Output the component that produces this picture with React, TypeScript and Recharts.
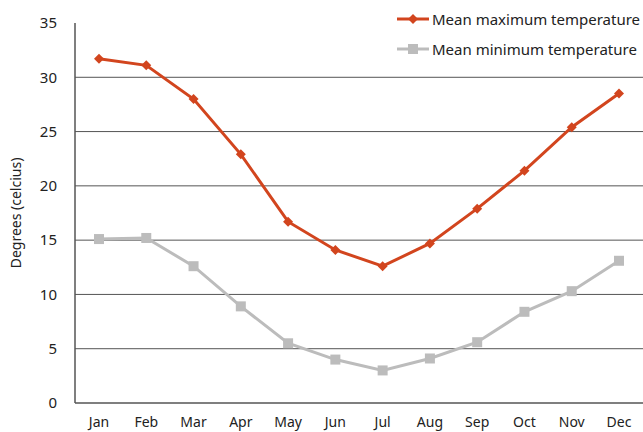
import { useEffect } from "react";
import {
  LineChart,
  Line,
  XAxis,
  YAxis,
  CartesianGrid,
} from "recharts";

const months = ["Jan", "Feb", "Mar", "Apr", "May", "Jun", "Jul", "Aug", "Sep", "Oct", "Nov", "Dec"];
const maxTemp = [31.7, 31.1, 28.0, 22.9, 16.7, 14.1, 12.6, 14.7, 17.9, 21.4, 25.4, 28.5];
const minTemp = [15.1, 15.2, 12.6, 8.9, 5.5, 4.0, 3.0, 4.1, 5.6, 8.4, 10.3, 13.1];
const yTicks = [0, 5, 10, 15, 20, 25, 30, 35];
const gridValues = [5, 10, 15, 20, 25, 30];

const RED = "#d2451e";
const GREY = "#bcbcbc";
const FONT = "'Noto Sans', sans-serif";

const data = months.map((m, i) => ({ month: m, max: maxTemp[i], min: minTemp[i] }));

const Diamond = (props: any) => {
  const { cx, cy } = props;
  if (cx == null || cy == null) return null;
  const r = 5;
  return (
    <path
      d={`M${cx},${cy - r} L${cx + r},${cy} L${cx},${cy + r} L${cx - r},${cy} Z`}
      fill={RED}
    />
  );
};

const Square = (props: any) => {
  const { cx, cy } = props;
  if (cx == null || cy == null) return null;
  const s = 10;
  return <rect x={cx - s / 2} y={cy - s / 2} width={s} height={s} fill={GREY} />;
};

const legendItems = [
  { label: "Mean maximum temperature", color: RED, shape: "diamond" },
  { label: "Mean minimum temperature", color: GREY, shape: "square" },
];

// legend drawn as an overlay so it doesn't take room from the plot
const ChartLegend = () => (
  <div
    style={{
      position: "absolute",
      top: 4,
      left: 396,
      fontFamily: FONT,
      fontSize: 15,
      color: "#222",
      whiteSpace: "nowrap",
    }}
  >
    {legendItems.map((it) => (
      <div key={it.label} style={{ display: "flex", alignItems: "center", height: 30 }}>
        <svg width={34} height={12} style={{ marginRight: 2 }}>
          <line x1={1} y1={6} x2={33} y2={6} stroke={it.color} strokeWidth={3} />
          {it.shape === "diamond" ? (
            <path d="M17,1 L22,6 L17,11 L12,6 Z" fill={it.color} />
          ) : (
            <rect x={12} y={1} width={10} height={10} fill={it.color} />
          )}
        </svg>
        <span>{it.label}</span>
      </div>
    ))}
  </div>
);

export default function App() {
  useEffect(() => {
    document.body.style.margin = "0";
  }, []);

  return (
    <div style={{ position: "relative", width: 643, height: 432, background: "#fff" }}>
      <LineChart
        width={643}
        height={432}
        data={data}
        margin={{ top: 23, right: 0, left: 0, bottom: 0 }}
      >
        <CartesianGrid
          horizontal
          vertical={false}
          horizontalValues={gridValues}
          stroke="#555"
          strokeWidth={1}
        />
        <XAxis
          dataKey="month"
          axisLine={{ stroke: "#555", strokeWidth: 1.5 }}
          tickLine={false}
          padding={{ left: 24, right: 24 }}
          height={29}
          tick={{ fill: "#222", fontSize: 14, fontFamily: FONT }}
          tickMargin={8}
          interval={0}
        />
        <YAxis
          domain={[0, 35]}
          ticks={yTicks}
          width={75}
          axisLine={{ stroke: "#555", strokeWidth: 1.5 }}
          tickLine={false}
          tick={{ fill: "#222", fontSize: 15, fontFamily: FONT }}
          tickMargin={12}
          label={{
            value: "Degrees (celcius)",
            angle: -90,
            position: "insideLeft",
            offset: 16,
            style: { textAnchor: "middle", fill: "#222", fontSize: 14, fontFamily: FONT },
          }}
        />
        <Line
          type="linear"
          dataKey="max"
          stroke={RED}
          strokeWidth={3}
          dot={<Diamond />}
          activeDot={false}
          isAnimationActive={false}
        />
        <Line
          type="linear"
          dataKey="min"
          stroke={GREY}
          strokeWidth={3}
          dot={<Square />}
          activeDot={false}
          isAnimationActive={false}
        />
      </LineChart>
      <ChartLegend />
    </div>
  );
}
